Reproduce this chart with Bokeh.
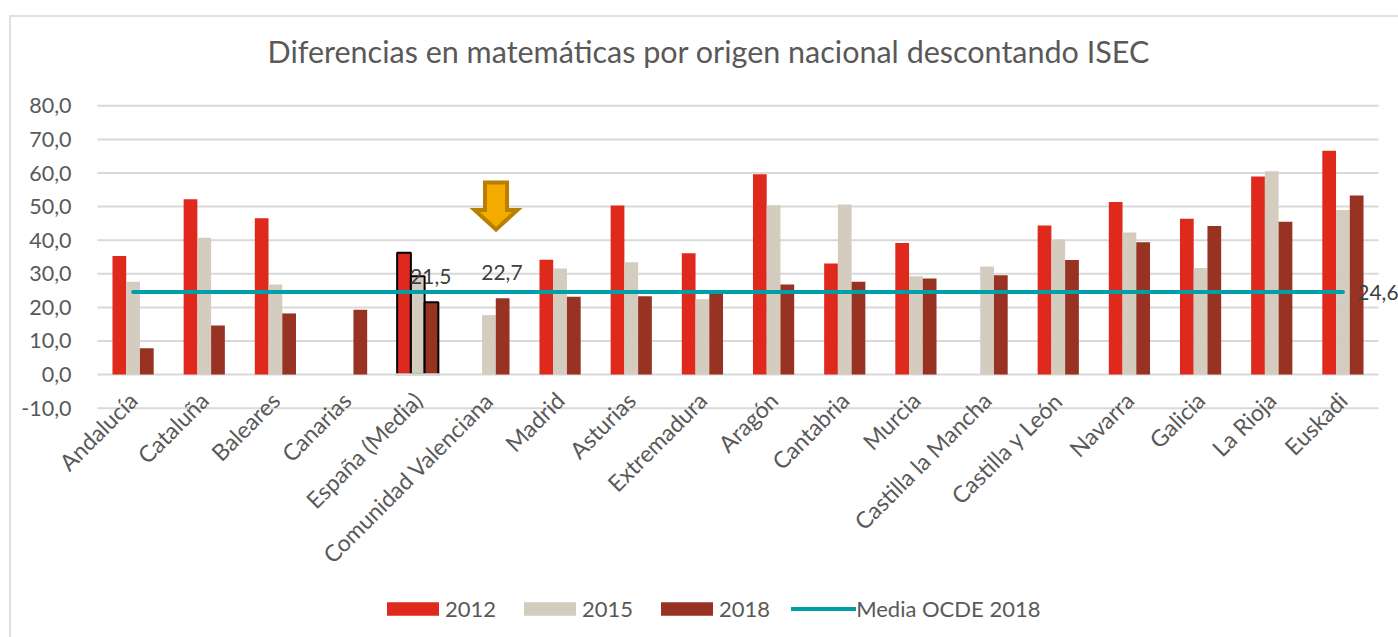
from math import pi
from bokeh.plotting import figure
from bokeh.models import (ColumnDataSource, Range1d, Legend, LegendItem, LabelSet, FixedTicker)
from bokeh.core.properties import value
from bokeh.embed import file_html
from bokeh.resources import INLINE

nan = float("nan")
regions = ["Andalucía", "Cataluña", "Baleares", "Canarias", "España (Media)", "Comunidad Valenciana",
           "Madrid", "Asturias", "Extremadura", "Aragón", "Cantabria", "Murcia", "Castilla la Mancha",
           "Castilla y León", "Navarra", "Galicia", "La Rioja", "Euskadi"]
v2012 = [35.3, 52.2, 46.5, nan, 36.3, nan, 34.2, 50.3, 36.1, 59.6, 33.1, 39.2, nan, 44.4, 51.4, 46.4, 59.0, 66.6]
v2015 = [27.6, 40.7, 26.8, nan, 29.3, 17.7, 31.6, 33.4, 22.4, 50.4, 50.6, 29.3, 32.2, 40.2, 42.3, 31.7, 60.5, 49.0]
v2018 = [7.8, 14.6, 18.2, 19.3, 21.5, 22.7, 23.2, 23.3, 24.4, 26.8, 27.6, 28.6, 29.6, 34.1, 39.4, 44.2, 45.5, 53.3]
ocde = [24.6] * len(regions)
y_ticks = [-10, 0, 10, 20, 30, 40, 50, 60, 70, 80]
y_labels = ["-10,0", "0,0", "10,0", "20,0", "30,0", "40,0", "50,0", "60,0", "70,0", "80,0"]
title = "Diferencias en matemáticas por origen nacional descontando ISEC"
highlight = "España (Media)"
labelled = ["España (Media)", "Comunidad Valenciana", "Euskadi"]
label_texts = ["21,5", "22,7", "24,6"]
label_values = [21.5, 22.7, 24.6]
label_dx = [13, 13, 35]
label_dy = [26, 26, -1]
arrow_x = [5.445, 5.755, 5.755, 5.9, 5.6, 5.3, 5.445]
arrow_y = [57.2, 57.2, 49.0, 49.0, 43.2, 49.0, 49.0]

RED, BEIGE, BROWN, TEAL = "#DE291C", "#D3CCBF", "#983222", "#009FA8"
GRID, TEXT, DARK = "#D9D9D9", "#595959", "#404040"
FONT = "Lato"
BORDER = "linear-gradient(#E0E0E0,#E0E0E0)"
W = 0.193

centers = [i + 0.5 for i in range(len(regions))]
lw = [2 if r == highlight else 0 for r in regions]
la = [1 if r == highlight else 0 for r in regions]
src1 = ColumnDataSource(dict(x=[c - W for c in centers], top=v2012, lw=lw, la=la))
src2 = ColumnDataSource(dict(x=centers, top=v2015, lw=lw, la=la))
src3 = ColumnDataSource(dict(x=[c + W for c in centers], top=v2018, lw=lw, la=la))

# The frame covers nearly the whole page so that rotated labels, the legend and the
# outer data label are not clipped; grid and axes are pinned to the true plot area.
p = figure(width=1398, height=637, output_backend="svg", toolbar_location=None,
           x_range=Range1d(-1.0819, 18.281), y_range=Range1d(-76.2, 84.57),
           frame_width=1378, frame_height=540,
           min_border_left=20, min_border_right=0, min_border_top=90, min_border_bottom=7,
           background_fill_color=None, border_fill_color=None, outline_line_color=None)
p.styles = {"background-image": f"{BORDER},{BORDER}",
            "background-size": "1389px 2px,2px 622px",
            "background-position": "9px 15px,9px 15px",
            "background-repeat": "no-repeat"}

p.title.text = title
p.title.align = "left"
p.title.offset = 247
p.title.standoff = 43
p.title.text_font = FONT
p.title.text_font_size = "30.5px"
p.title.text_font_style = "normal"
p.title.text_color = TEXT

p.grid.visible = False
p.segment(x0=[0] * len(y_ticks), x1=[len(regions)] * len(y_ticks), y0=y_ticks, y1=y_ticks,
          line_color=GRID, line_width=2)

p.yaxis.ticker = FixedTicker(ticks=y_ticks)
p.yaxis.major_label_overrides = dict(zip(y_ticks, y_labels))
p.yaxis.fixed_location = 0
p.yaxis.major_label_standoff = 20
p.xaxis.ticker = FixedTicker(ticks=centers)
p.xaxis.major_label_overrides = dict(zip(centers, regions))
p.xaxis.fixed_location = y_ticks[0]
p.xaxis.major_label_orientation = pi / 4
p.xaxis.major_label_standoff = -18
for ax in (p.xaxis[0], p.yaxis[0]):
    ax.axis_line_color = None
    ax.major_tick_line_color = None
    ax.minor_tick_line_color = None
    ax.major_label_text_font = FONT
    ax.major_label_text_font_size = "21.5px"
    ax.major_label_text_color = TEXT
p.xaxis[0].major_label_text_font_size = "23px"

r1 = p.vbar(x="x", top="top", width=W, source=src1, fill_color=RED, line_color="black", line_width="lw",
            line_alpha="la")
r2 = p.vbar(x="x", top="top", width=W, source=src2, fill_color=BEIGE, line_color="black", line_width="lw",
            line_alpha="la")
r3 = p.vbar(x="x", top="top", width=W, source=src3, fill_color=BROWN, line_color="black", line_width="lw",
            line_alpha="la")
p.vbar(x=[centers[regions.index(highlight)]], bottom=[-0.4], top=[0.4], width=3 * W + 0.04,
       fill_color=GRID, line_color=None)
r4 = p.line(x=centers, y=ocde, line_color=TEAL, line_width=4, line_cap="round")

p.patch(arrow_x, arrow_y, fill_color="#F4AB00", line_color="#B87F00", line_width=4, line_join="miter")

lab = ColumnDataSource(dict(x=[centers[regions.index(r)] for r in labelled], y=label_values, t=label_texts,
                            dx=label_dx, dy=label_dy))
p.add_layout(LabelSet(x="x", y="y", text="t", source=lab, x_offset="dx", y_offset="dy",
                      text_font=value(FONT), text_font_size="21px", text_color=DARK,
                      text_align="center", text_baseline="middle"))

legend = Legend(items=[LegendItem(label="2012", renderers=[r1]), LegendItem(label="2015", renderers=[r2]),
                       LegendItem(label="2018", renderers=[r3]), LegendItem(label="Media OCDE 2018", renderers=[r4])],
                orientation="horizontal", location=(360, 8), glyph_width=65, glyph_height=17,
                label_standoff=0, spacing=21, padding=0, margin=0, border_line_color=None,
                background_fill_alpha=0, label_text_font=FONT, label_text_font_size="22px",
                label_text_color=TEXT)
p.add_layout(legend, "center")

open("out.html", "w").write(file_html(p, INLINE))
